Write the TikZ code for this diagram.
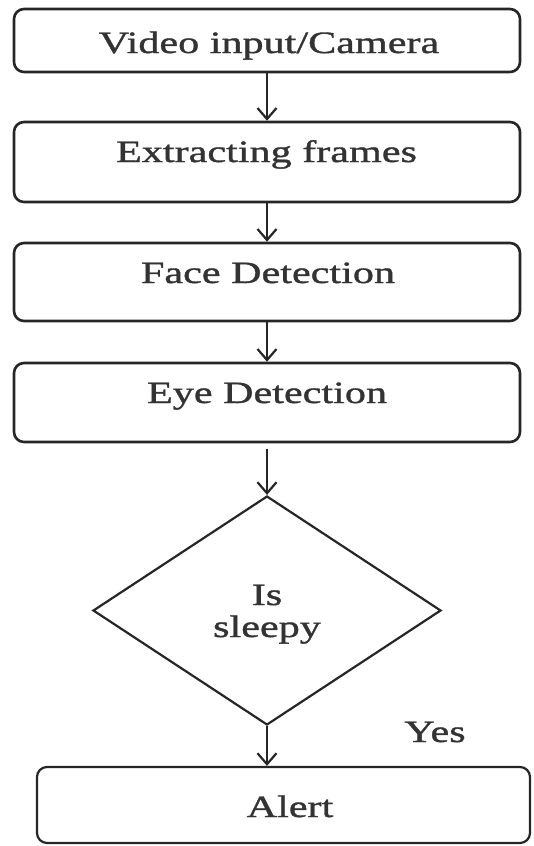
\documentclass[tikz,border=0pt]{standalone}
\usepackage{fontspec}
\setmainfont{Liberation Serif}[FakeStretch=1.36,FakeBold=1.2]
\usetikzlibrary{shapes.geometric,arrows.meta}
\begin{document}
\begin{tikzpicture}[x=1pt,y=-1pt,
  stepbox/.style={draw=black!85, line width=2.6pt, rounded corners=10pt, minimum width=506pt, inner sep=0pt},
  decision/.style={diamond, draw=black!85, line width=2.2pt, minimum width=348pt, minimum height=229pt, inner sep=0pt},
  lbl/.style={anchor=base, inner sep=0pt, text=black!80, font=\fontsize{31}{36}\selectfont},
  flow/.style={draw=black!85, line width=2.2pt, -{Straight Barb[length=11pt,width=19pt,line width=2.2pt]}}]
\useasboundingbox (0,0) rectangle (533,846);
\node[stepbox, minimum height=63pt] (b1) at (267,40.5) {};
\node[stepbox, minimum height=80pt] (b2) at (267,162) {};
\node[stepbox, minimum height=78pt] (b3) at (267,282) {};
\node[stepbox, minimum height=79pt] (b4) at (267,402.5) {};
\node[decision] (d) at (267,610.5) {};
\node[stepbox, line width=2.2pt, minimum width=493pt, minimum height=76pt] (al) at (283.5,805) {};
\node[lbl] (t1) at (269,53) {Video input/Camera};
\node[lbl] (t2) at (266.5,162) {Extracting frames};
\node[lbl] (t3) at (268,283) {Face Detection};
\node[lbl] (t4) at (267,403) {Eye Detection};
\node[lbl] (t5) at (267,605) {Is};
\node[lbl] (t6) at (267,637) {sleepy};
\node[lbl] (t7) at (435,742) {Yes};
\node[lbl] (t8) at (290,817) {Alert};
\draw[flow] (b1.south) -- (b2.north);
\draw[flow] (b2.south) -- (b3.north);
\draw[flow] (b3.south) -- (b4.north);
\draw[flow, shorten <=6pt] (b4.south) -- (d.north);
\draw[flow] (d.south) -- (d.south |- al.north);
\end{tikzpicture}
\end{document}
